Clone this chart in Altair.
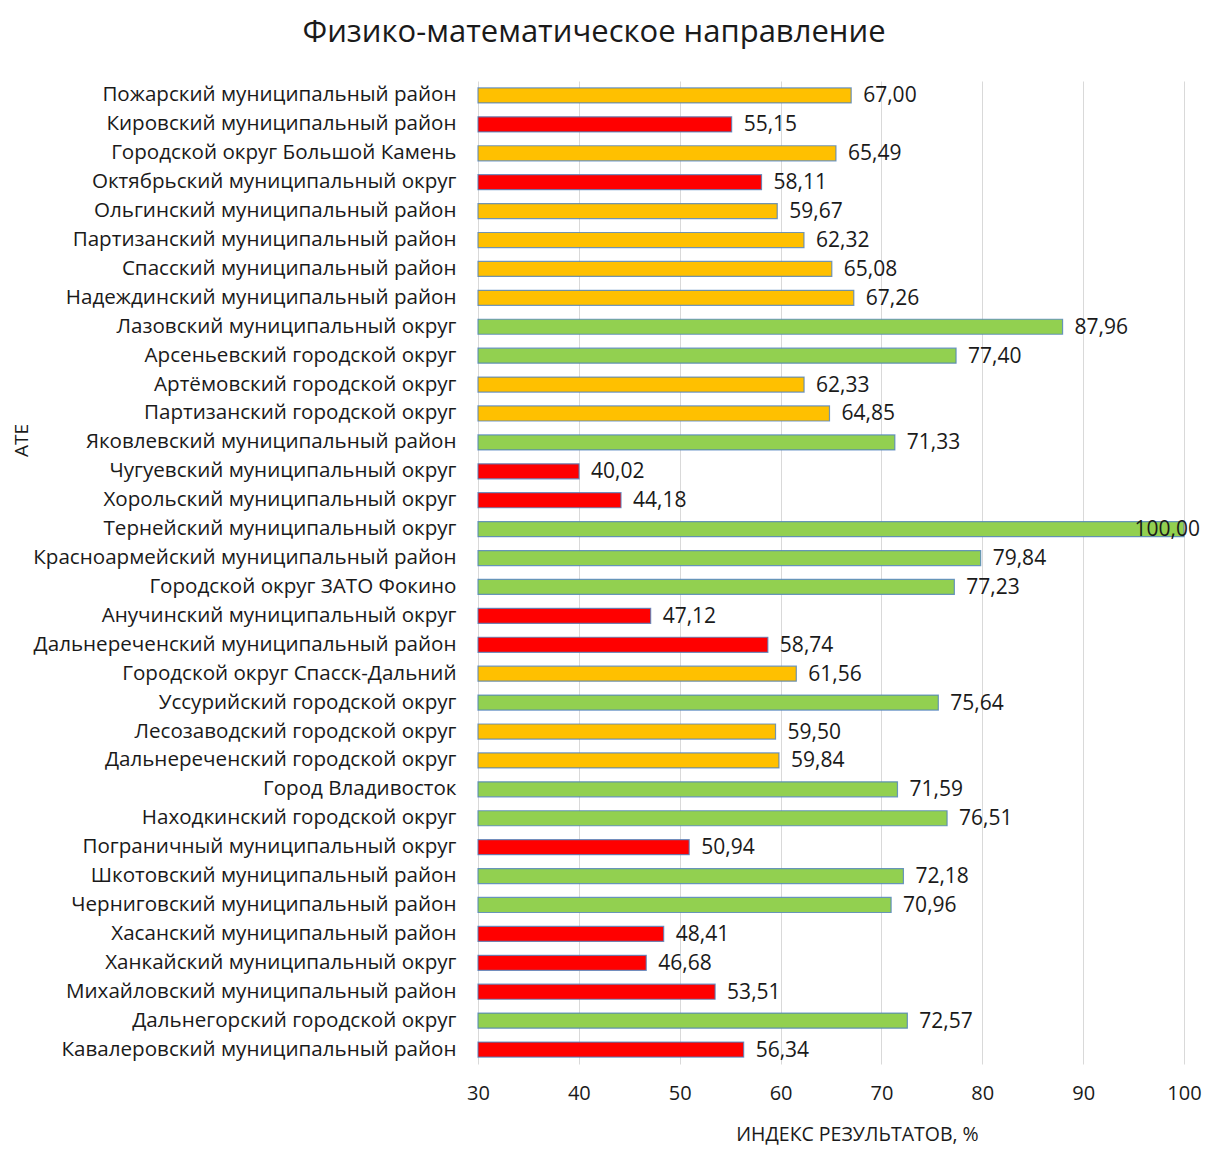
import altair as alt
import pandas as pd

categories = [
    "Пожарский муниципальный район",
    "Кировский муниципальный район",
    "Городской округ Большой Камень",
    "Октябрьский муниципальный округ",
    "Ольгинский муниципальный район",
    "Партизанский муниципальный район",
    "Спасский муниципальный район",
    "Надеждинский муниципальный район",
    "Лазовский муниципальный округ",
    "Арсеньевский городской округ",
    "Артёмовский городской округ",
    "Партизанский городской округ",
    "Яковлевский муниципальный район",
    "Чугуевский муниципальный округ",
    "Хорольский муниципальный округ",
    "Тернейский муниципальный округ",
    "Красноармейский муниципальный район",
    "Городской округ ЗАТО Фокино",
    "Анучинский муниципальный округ",
    "Дальнереченский муниципальный район",
    "Городской округ Спасск-Дальний",
    "Уссурийский городской округ",
    "Лесозаводский городской округ",
    "Дальнереченский городской округ",
    "Город Владивосток",
    "Находкинский городской округ",
    "Пограничный муниципальный округ",
    "Шкотовский муниципальный район",
    "Черниговский муниципальный район",
    "Хасанский муниципальный район",
    "Ханкайский муниципальный округ",
    "Михайловский муниципальный район",
    "Дальнегорский городской округ",
    "Кавалеровский муниципальный район",
]
values = [67.00, 55.15, 65.49, 58.11, 59.67, 62.32, 65.08, 67.26, 87.96, 77.40,
          62.33, 64.85, 71.33, 40.02, 44.18, 100.00, 79.84, 77.23, 47.12, 58.74,
          61.56, 75.64, 59.50, 59.84, 71.59, 76.51, 50.94, 72.18, 70.96, 48.41,
          46.68, 53.51, 72.57, 56.34]
groups = ["o", "r", "o", "r", "o", "o", "o", "o", "g", "g",
          "o", "o", "g", "r", "r", "g", "g", "g", "r", "r",
          "o", "g", "o", "o", "g", "g", "r", "g", "g", "r",
          "r", "r", "g", "r"]
group_keys = ["g", "o", "r"]
group_colors = ["#92D050", "#FFC000", "#FF0000"]
axis_min, axis_max = 30, 100
tick_values = [30, 40, 50, 60, 70, 80, 90, 100]

df = pd.DataFrame({"cat": categories, "val": values, "grp": groups})
df["label"] = [f"{v:.2f}".replace(".", ",") for v in values]
df["base"] = axis_min

FONT = "Open Sans"
TXT = "#1a1a1a"
W, H = 706, 983

x_scale = alt.Scale(domain=[axis_min, axis_max], nice=False, zero=False)

y_enc = alt.Y("cat:N", sort=categories, title="АТЕ",
              axis=alt.Axis(labelFontSize=20.6, labelFont=FONT, labelColor=TXT,
                            labelPadding=22, ticks=False, domain=False, labelLimit=0,
                            titleFontSize=19, titleFont=FONT, titleColor=TXT,
                            titleFontWeight="normal", titleX=-457, titleY=359,
                            titleBaseline="middle", zindex=1),
              scale=alt.Scale(paddingInner=0.48, paddingOuter=0.24))

bars = alt.Chart(df).mark_bar(stroke="#4f81bd", strokeWidth=1.2, strokeOpacity=0.8).encode(
    x=alt.X("base:Q", scale=x_scale, title="ИНДЕКС РЕЗУЛЬТАТОВ, %",
            axis=alt.Axis(values=tick_values, grid=True,
                          gridColor="#d9d9d9", gridWidth=1, ticks=False, domain=False,
                          labelFontSize=20, labelFont=FONT, labelColor=TXT,
                          labelPadding=19, labelFlush=False, titleFontSize=19.5, titleFont=FONT,
                          titleColor=TXT, titleFontWeight="normal",
                          titlePadding=22, titleX=379, zindex=0)),
    x2="val:Q",
    y=y_enc,
    color=alt.Color("grp:N", scale=alt.Scale(domain=group_keys, range=group_colors), legend=None),
)

text = alt.Chart(df).transform_calculate(
    lx="datum.val > 95 ? 93.9 : datum.val"
).mark_text(align="left", baseline="middle", dx=12, dy=1, fontSize=21, font=FONT, color=TXT).encode(
    x=alt.X("lx:Q", scale=x_scale),
    y=alt.Y("cat:N", sort=categories),
    text="label:N",
)

chart = (bars + text).properties(
    width=W, height=H,
    title=alt.TitleParams("Физико-математическое  направление", fontSize=31, font=FONT,
                          fontWeight="normal", color=TXT, anchor="middle",
                          dx=-237, offset=32),
    autosize=alt.AutoSizeParams(type="none"),
    padding={"left": 470, "top": 73, "right": 33, "bottom": 86},
).configure_view(stroke=None)

chart.save("out.html", embed_options={"renderer": "svg", "actions": False})
